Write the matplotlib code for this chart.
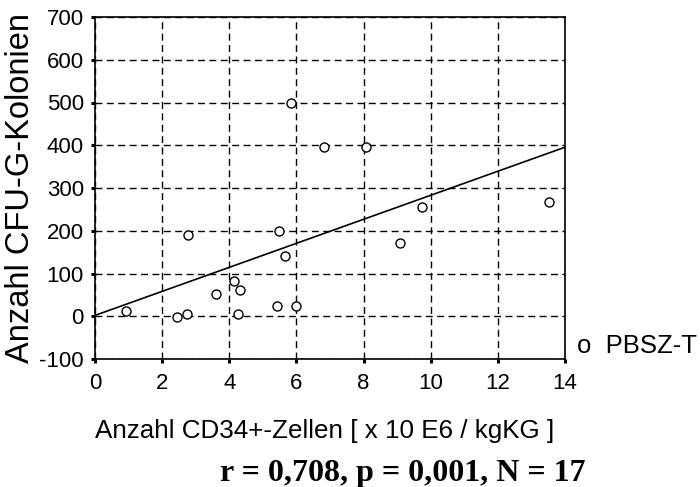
import matplotlib
matplotlib.use("Agg")
import matplotlib.pyplot as plt
import numpy as np

cd34 = [0.91, 2.43, 2.73, 2.78, 3.59, 4.14, 4.31, 4.26, 5.41, 5.47, 5.67, 5.85, 5.98, 6.83, 8.08, 9.10, 9.75, 13.52]
cfu = [13, -2, 5, 191, 51, 83, 62, 5, 23, 199, 142, 498, 23, 397, 397, 171, 256, 268]
fit_intercept = 2.0
fit_slope = 28.1
xticks = [0, 2, 4, 6, 8, 10, 12, 14]
yticks = [-100, 0, 100, 200, 300, 400, 500, 600, 700]

plt.rcParams['font.family'] = ['Liberation Sans', 'DejaVu Sans']
plt.rcParams['axes.unicode_minus'] = False

fig = plt.figure(figsize=(7.0, 4.87), dpi=100)
ax = fig.add_axes([95/700, 1 - 359/487, 470/700, 342/487])

ax.set_xlim(0, 14)
ax.set_ylim(-100, 700)
ax.set_xticks(xticks)
ax.set_yticks(yticks)
ax.grid(True, color='black', linestyle=(0, (5, 3.2)), linewidth=1.0)
ax.set_axisbelow(True)

xs = np.array([0, 14])
ax.plot(xs, fit_intercept + fit_slope * xs, color='black', linewidth=1.2, zorder=3)
ax.plot(cd34, cfu, linestyle='none', marker='o', markersize=6.5, markerfacecolor='white',
        markeredgecolor='black', markeredgewidth=1.0, zorder=4)

for s in ax.spines.values():
    s.set_linewidth(1.2)
ax.tick_params(direction='out', length=3, width=2.2, labelsize=16, colors='black')
ax.tick_params(axis='x', pad=7)
ax.tick_params(axis='y', pad=5)

fig.text(21/700, 1 - 188/487, 'Anzahl CFU-G-Kolonien', fontsize=23.5, rotation=90,
         ha='center', va='center')
fig.text(95/700, 1 - 438/487, 'Anzahl CD34+-Zellen [ x 10 E6 / kgKG ]', fontsize=18.7,
         ha='left', va='baseline')
fig.text(220/700, 1 - 481/487, 'r = 0,708, p = 0,001, N = 17', fontsize=23,
         fontweight='bold', family=['Liberation Serif', 'DejaVu Serif'], ha='left', va='baseline')
fig.text(577/700, 1 - 353/487, 'o  PBSZ-T', fontsize=18.5, ha='left', va='baseline')

fig.savefig('out.png', dpi=100)
